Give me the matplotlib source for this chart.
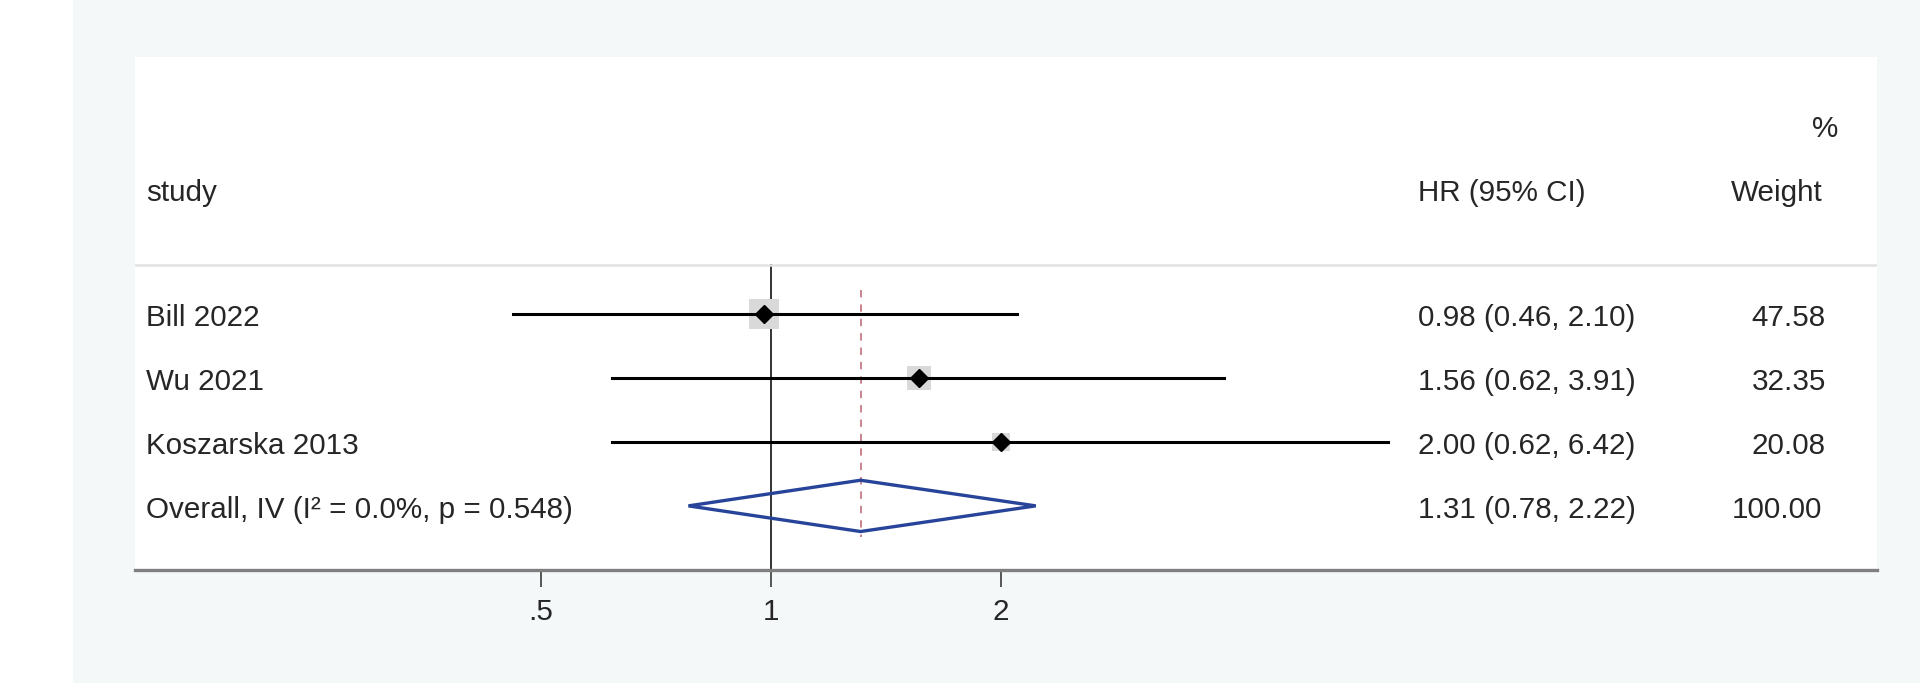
import matplotlib.pyplot as plt
import matplotlib.transforms as mtransforms
from matplotlib.patches import Polygon, Rectangle
import numpy as np

plt.rcParams['font.family'] = ['Liberation Sans', 'DejaVu Sans']

# data
studies = ['Bill 2022', 'Wu 2021', 'Koszarska 2013']
hr = [0.98, 1.56, 2.00]
ci_lo = [0.46, 0.62, 0.62]
ci_hi = [2.10, 3.91, 6.42]
weights = [47.58, 32.35, 20.08]

overall_hr = 1.31
overall_lo = 0.78
overall_hi = 2.22
overall_weight = 100.00
i2 = 0.0
p_het = 0.548

xticks = [0.5, 1, 2]
xtick_labels = ['.5', '1', '2']

txt_col = '#262626'
fs = 21.3
dy = 0.07  # small nudge so text sits on the row like the original

fig = plt.figure(figsize=(19.2, 6.83), dpi=100, facecolor='#f5f8f9')
fig.patches.append(Rectangle((0, 0), 73 / 1920, 1, transform=fig.transFigure,
                             facecolor='white', edgecolor='none', zorder=-1))

ax = fig.add_axes([135 / 1920, 1 - 570 / 683, 1742 / 1920, 513 / 683])
ax.set_facecolor('white')
ax.set_xscale('log')
ax.set_xlim(0.1473, 27.97)
ax.set_ylim(4, -4)

for s in ['top', 'left', 'right']:
    ax.spines[s].set_visible(False)
ax.spines['bottom'].set_color('#7f7f7f')
ax.spines['bottom'].set_linewidth(2.4)

ax.set_yticks([])
ax.set_xticks(xticks)
ax.set_xticklabels(xtick_labels)
ax.xaxis.set_minor_locator(plt.NullLocator())
ax.tick_params(axis='x', length=12, width=1.4, color='#555555', pad=8,
               labelsize=fs, labelcolor=txt_col)

tr = mtransforms.blended_transform_factory(ax.transAxes, ax.transData)

# header
ax.text(0.0063, -1.95 + dy, 'study', transform=tr, ha='left', va='center', fontsize=fs, color=txt_col)
ax.text(0.7365, -1.95 + dy, 'HR (95% CI)', transform=tr, ha='left', va='center', fontsize=fs, color=txt_col)
ax.text(0.9685, -1.95 + dy, 'Weight', transform=tr, ha='right', va='center', fontsize=fs, color=txt_col)
ax.text(0.9775, -2.95 + dy, '%', transform=tr, ha='right', va='center', fontsize=fs, color=txt_col)
ax.axhline(-0.75, color='#e2e2e2', lw=1.8)

# reference line at 1 and overall estimate line
ax.plot([1, 1], [-0.75, 4], color='#333333', lw=1.4, zorder=1)
ax.plot([overall_hr, overall_hr], [-0.36, 3.48], color='#c9848f', lw=1.4,
        linestyle=(0, (3.8, 3.6)), zorder=1)

rows = np.arange(len(studies))
for i in rows:
    ax.plot([ci_lo[i], ci_hi[i]], [i, i], color='black', lw=2.2, zorder=2)
    ax.plot(hr[i], i, marker='s', markersize=3.05 * np.sqrt(weights[i]),
            color='#d9d9d9', markeredgewidth=0, zorder=1.5)
    ax.plot(hr[i], i, marker='D', markersize=9, color='black', zorder=3)
    ax.text(0.0063, i + dy, studies[i], transform=tr, ha='left', va='center', fontsize=fs, color=txt_col)
    ax.text(0.7365, i + dy, f'{hr[i]:.2f} ({ci_lo[i]:.2f}, {ci_hi[i]:.2f})', transform=tr,
            ha='left', va='center', fontsize=fs, color=txt_col)
    ax.text(0.9707, i + dy, f'{weights[i]:.2f}', transform=tr, ha='right', va='center',
            fontsize=fs, color=txt_col)

yo = len(studies)
diamond = Polygon([[overall_lo, yo], [overall_hr, yo - 0.4], [overall_hi, yo], [overall_hr, yo + 0.4]],
                  closed=True, fill=False, edgecolor='#27449a', lw=2.4, zorder=3)
ax.add_patch(diamond)
ax.text(0.0063, yo + dy, f'Overall, IV (I² = {i2:.1f}%, p = {p_het:.3f})', transform=tr,
        ha='left', va='center', fontsize=fs, color=txt_col)
ax.text(0.7365, yo + dy, f'{overall_hr:.2f} ({overall_lo:.2f}, {overall_hi:.2f})', transform=tr,
        ha='left', va='center', fontsize=fs, color=txt_col)
ax.text(0.9685, yo + dy, f'{overall_weight:.2f}', transform=tr, ha='right', va='center',
        fontsize=fs, color=txt_col)

fig.savefig('out.png', dpi=100, facecolor=fig.get_facecolor())
